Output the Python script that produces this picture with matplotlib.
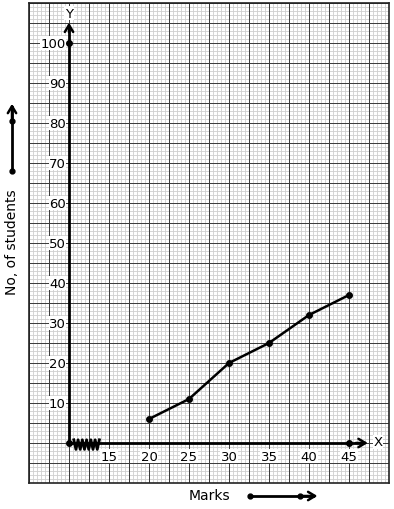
import numpy as np
import matplotlib
matplotlib.use('Agg')
import matplotlib.pyplot as plt

# dados do grafico
marks = [20, 25, 30, 35, 40, 45]
students = [6, 11, 20, 25, 32, 37]
x_ticks = [15, 20, 25, 30, 35, 40, 45]
y_ticks = [10, 20, 30, 40, 50, 60, 70, 80, 90, 100]

fig = plt.figure(figsize=(3.94, 5.10), dpi=100)
ax = fig.add_axes([29 / 394, 26 / 510, 360 / 394, 480 / 510])
ax.set_xlim(5, 50)
ax.set_ylim(-10, 110)
ax.set_xticks([])
ax.set_yticks([])
for s in ax.spines.values():
    s.set_color('#222222')
    s.set_linewidth(1.2)

# papel milimetrado
for x in np.arange(5, 50.01, 0.5):
    ax.axvline(x, color='#cfcfcf', lw=0.6, zorder=0)
for y in np.arange(-10, 110.01, 1):
    ax.axhline(y, color='#cfcfcf', lw=0.6, zorder=0)
for x in np.arange(5, 50.01, 2.5):
    ax.axvline(x, color='#3a3a3a', lw=0.7, zorder=1)
for y in np.arange(-10, 110.01, 5):
    ax.axhline(y, color='#3a3a3a', lw=0.7, zorder=1)

# eixos
ax.plot([10, 10], [0, 104], color='black', lw=2, zorder=3)
ax.annotate('', xy=(10, 105.8), xytext=(10, 102), zorder=3,
            arrowprops=dict(arrowstyle='->,head_length=0.5,head_width=0.3', lw=1.8, color='black'))
ax.plot([10, 46.5], [0, 0], color='black', lw=2, zorder=3)
ax.annotate('', xy=(47.7, 0), xytext=(45.5, 0), zorder=3,
            arrowprops=dict(arrowstyle='->,head_length=0.5,head_width=0.3', lw=1.8, color='black'))
ax.text(10, 107.5, 'Y', ha='center', va='center', fontsize=9.5,
        bbox=dict(facecolor='white', edgecolor='none', pad=0.5), zorder=4)
ax.text(48.6, 0.3, 'X', ha='center', va='center', fontsize=9.5,
        bbox=dict(facecolor='white', edgecolor='none', pad=0.5), zorder=4)

# quebra do eixo x
zx = np.linspace(10.6, 13.8, 13)
zy = np.where(np.arange(13) % 2 == 0, 0.8, -1.6)
ax.plot(zx, zy, color='black', lw=2, zorder=3)

ax.plot([10, 10, 45], [0, 100, 0], 'o', color='black', ms=4, zorder=4)

# rotulos
for t in y_ticks:
    ax.text(9.6, t, str(t), ha='right', va='center', fontsize=9.5,
            bbox=dict(facecolor='white', edgecolor='none', pad=0.3), zorder=4)
for t in x_ticks:
    ax.text(t, -3.3, str(t), ha='center', va='center', fontsize=9.5,
            bbox=dict(facecolor='white', edgecolor='none', pad=0.3), zorder=4)

# dados
ax.plot(marks, students, color='black', lw=1.8, marker='o', ms=4, zorder=5)

# titulos dos eixos
ax.text(2.9, 50.5, 'No, of students', rotation=90, ha='center', va='center',
        fontsize=10, clip_on=False)
ax.plot([2.875, 2.875], [68, 84], color='black', lw=2, clip_on=False)
ax.plot([2.875, 2.875], [68, 80.5], 'o', color='black', ms=3.5, clip_on=False)
ax.annotate('', xy=(2.875, 85.5), xytext=(2.875, 80), annotation_clip=False,
            arrowprops=dict(arrowstyle='->,head_length=0.5,head_width=0.3', lw=1.8, color='black'))
ax.text(27.6, -13.1, 'Marks', ha='center', va='center', fontsize=10, clip_on=False)
ax.plot([32.6, 40.5], [-13.25, -13.25], color='black', lw=2, clip_on=False)
ax.plot([32.6, 38.9], [-13.25, -13.25], 'o', color='black', ms=3.5, clip_on=False)
ax.annotate('', xy=(41.4, -13.25), xytext=(38.5, -13.25), annotation_clip=False,
            arrowprops=dict(arrowstyle='->,head_length=0.5,head_width=0.3', lw=1.8, color='black'))

fig.savefig('out.png', dpi=100)
